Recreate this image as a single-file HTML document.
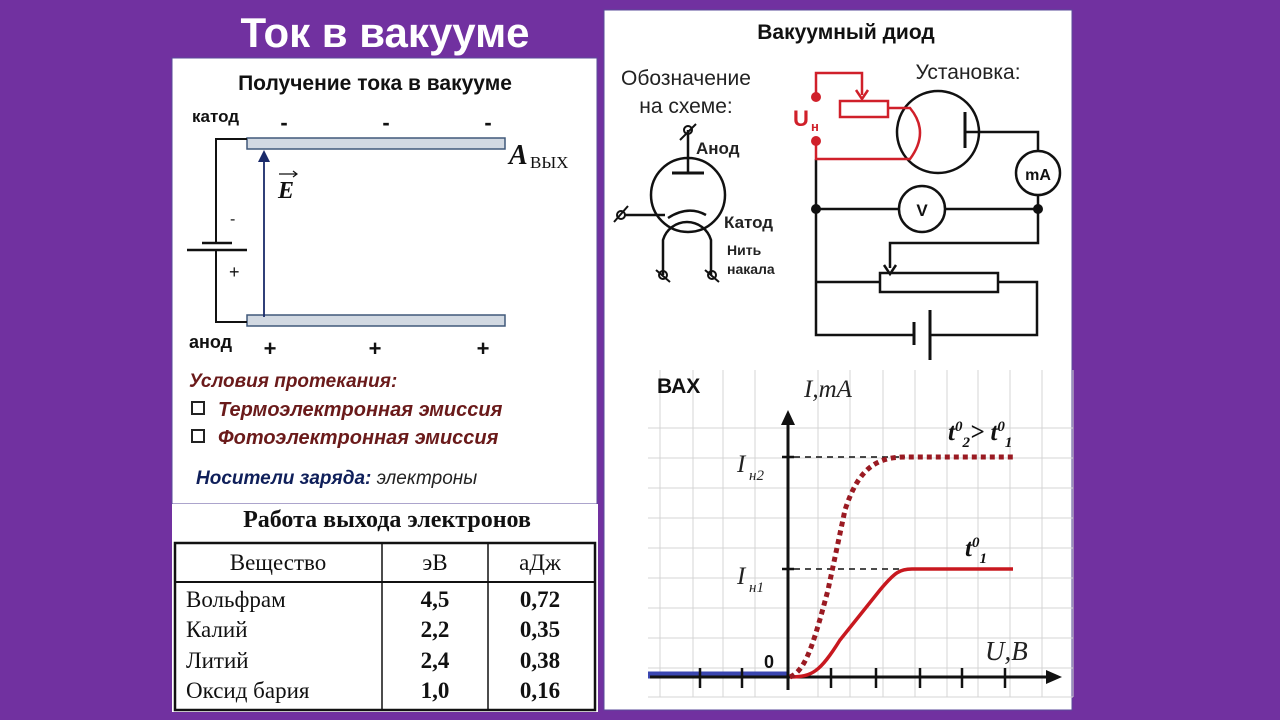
<!DOCTYPE html>
<html><head><meta charset="utf-8"><style>
html,body{margin:0;padding:0;}
body{width:1280px;height:720px;background:#7131a0;overflow:hidden;font-family:"Liberation Sans","DejaVu Sans",sans-serif;}
svg{display:block}
</style></head><body>
<svg width="1280" height="720" viewBox="0 0 1280 720" xmlns="http://www.w3.org/2000/svg">
<rect width="1280" height="720" fill="#7131a0"/>
<text x="385" y="47" text-anchor="middle" font-family="Liberation Sans, sans-serif" font-weight="bold" font-size="42" fill="#fff">Ток в вакууме</text>
<!-- left panel -->
<rect x="172" y="58" width="425" height="446" fill="#fff" stroke="#5a4a9a" stroke-width="1"/>
<rect x="172" y="504" width="426" height="208" fill="#fff"/>
<!-- right panel -->
<rect x="604" y="10" width="468" height="700" fill="#fff" stroke="#5a4a9a" stroke-width="1"/>

<!-- left diagram -->
<text x="375" y="90" text-anchor="middle" font-weight="bold" font-size="21" fill="#111">Получение тока в вакууме</text>
<text x="192" y="122" font-weight="bold" font-size="17" fill="#111">катод</text>
<text x="189" y="348" font-weight="bold" font-size="18" fill="#111">анод</text>
<g font-weight="bold" font-size="22" fill="#111" text-anchor="middle">
<text x="284" y="130">-</text><text x="386" y="130">-</text><text x="488" y="130">-</text>
<text x="270" y="356">+</text><text x="375" y="356">+</text><text x="483" y="356">+</text>
</g>
<rect x="247" y="138" width="258" height="11" fill="#d2d9e2" stroke="#40597a" stroke-width="1.5"/>
<rect x="247" y="315" width="258" height="11" fill="#d2d9e2" stroke="#40597a" stroke-width="1.5"/>
<path d="M247 139 H216 V243 M216 251 V322 H247" fill="none" stroke="#111" stroke-width="2"/>
<line x1="202" y1="243" x2="232" y2="243" stroke="#111" stroke-width="2.5"/>
<line x1="187" y1="250" x2="247" y2="250" stroke="#111" stroke-width="2.5"/>
<text x="230" y="224" font-size="16" fill="#111">-</text>
<text x="229" y="278" font-size="18" fill="#111">+</text>
<line x1="264" y1="317" x2="264" y2="158" stroke="#1a2a6a" stroke-width="1.8"/>
<path d="M258 162 L264 150 L270 162 Z" fill="#1a2a6a"/>
<text x="278" y="198" font-family="Liberation Serif, serif" font-weight="bold" font-style="italic" font-size="24" fill="#111">E</text>
<path d="M279 174 H297 M293 171 L297 174 L293 177" fill="none" stroke="#111" stroke-width="1.2"/>
<text x="509" y="164" font-family="Liberation Serif, serif" font-weight="bold" font-style="italic" font-size="28" fill="#111">A</text>
<text x="530" y="168" font-family="Liberation Serif, serif" font-size="17" fill="#111">ВЫХ</text>

<g font-weight="bold" font-style="italic" fill="#6a1a1a">
<text x="189" y="387" font-size="19">Условия протекания:</text>
<text x="218" y="416" font-size="20">Термоэлектронная эмиссия</text>
<text x="218" y="444" font-size="20">Фотоэлектронная эмиссия</text>
</g>
<rect x="192" y="402" width="12" height="12" fill="none" stroke="#222" stroke-width="2"/>
<rect x="192" y="430" width="12" height="12" fill="none" stroke="#222" stroke-width="2"/>
<text x="196" y="484" font-style="italic" font-size="19" fill="#0f1f5a"><tspan font-weight="bold">Носители заряда:</tspan><tspan fill="#222"> электроны</tspan></text>

<!-- table -->
<text x="387" y="527" text-anchor="middle" font-family="Liberation Serif, serif" font-weight="bold" font-size="24" fill="#111">Работа выхода электронов</text>
<rect x="175" y="543" width="420" height="167" fill="none" stroke="#111" stroke-width="2.5"/>
<line x1="175" y1="582" x2="595" y2="582" stroke="#111" stroke-width="2"/>
<line x1="382" y1="543" x2="382" y2="710" stroke="#111" stroke-width="1.5"/>
<line x1="488" y1="543" x2="488" y2="710" stroke="#111" stroke-width="1.5"/>
<g font-family="Liberation Serif, serif" font-size="23" fill="#111">
<text x="278" y="570" text-anchor="middle">Вещество</text>
<text x="435" y="570" text-anchor="middle">эВ</text>
<text x="540" y="570" text-anchor="middle">аДж</text>
<text x="186" y="607">Вольфрам</text>
<text x="186" y="637">Калий</text>
<text x="186" y="668">Литий</text>
<text x="186" y="698">Оксид бария</text>
<g text-anchor="middle" font-weight="bold">
<text x="435" y="607">4,5</text><text x="435" y="637">2,2</text><text x="435" y="668">2,4</text><text x="435" y="698">1,0</text>
<text x="540" y="607">0,72</text><text x="540" y="637">0,35</text><text x="540" y="668">0,38</text><text x="540" y="698">0,16</text>
</g>
</g>

<!-- right: diode -->
<text x="846" y="39" text-anchor="middle" font-weight="bold" font-size="21" fill="#111">Вакуумный диод</text>
<text x="686" y="85" text-anchor="middle" font-size="21" fill="#222">Обозначение</text>
<text x="686" y="113" text-anchor="middle" font-size="21" fill="#222">на схеме:</text>
<text x="968" y="79" text-anchor="middle" font-size="21" fill="#222">Установка:</text>
<!-- tube symbol -->
<g fill="none" stroke="#111" stroke-width="2.5">
<circle cx="688" cy="195" r="37"/>
<line x1="688" y1="173" x2="688" y2="130"/>
<line x1="672" y1="173" x2="704" y2="173" stroke-width="3"/>
<path d="M624 215 H665"/>
<path d="M668 218 Q688 205 706 215"/>
<path d="M663 275 V240 A25 25 0 0 1 711 240 V275"/>
<line x1="680" y1="140" x2="696" y2="124" stroke-width="2"/>
<circle cx="688" cy="130" r="4" stroke-width="2"/>
<line x1="614" y1="222" x2="628" y2="206" stroke-width="2"/><circle cx="621" cy="215" r="4" stroke-width="2"/>
<line x1="656" y1="270" x2="670" y2="282" stroke-width="2"/><circle cx="663" cy="275" r="4" stroke-width="2"/>
<line x1="705" y1="270" x2="719" y2="282" stroke-width="2"/><circle cx="712" cy="275" r="4" stroke-width="2"/>
</g>
<g font-weight="bold" fill="#222">
<text x="696" y="154" font-size="17">Анод</text>
<text x="724" y="228" font-size="17">Катод</text>
<text x="727" y="255" font-size="14">Нить</text>
<text x="727" y="274" font-size="14">накала</text>
</g>
<!-- circuit -->
<g fill="none" stroke="#111" stroke-width="2.5">
<circle cx="938" cy="132" r="41"/>
<line x1="965" y1="112" x2="965" y2="148" stroke-width="3"/>
<path d="M965 132 H1038 V151"/>
<circle cx="1038" cy="173" r="22"/>
<path d="M1038 195 V243 H890 V268"/>
<path d="M816 159 V335 H914 M930 335 H1037 V282 H998"/>
<path d="M816 209 H899 M945 209 H1038"/>
<circle cx="922" cy="209" r="23"/>
<rect x="880" y="273" width="118" height="19"/>
<path d="M816 282 H880"/>
<line x1="914" y1="322" x2="914" y2="345" stroke-width="3"/>
<line x1="930" y1="310" x2="930" y2="360" stroke-width="3"/>
</g>
<path d="M884 265 L890 274 L896 265" fill="none" stroke="#111" stroke-width="2.5"/>
<circle cx="816" cy="209" r="5" fill="#111"/>
<circle cx="1038" cy="209" r="5" fill="#111"/>
<text x="1038" y="180" text-anchor="middle" font-weight="bold" font-size="16" fill="#111">mA</text>
<text x="922" y="216" text-anchor="middle" font-weight="bold" font-size="17" fill="#111">V</text>
<g fill="none" stroke="#d0202a" stroke-width="2.5">
<path d="M816 97 V73 H862 V95"/>
<path d="M856 90 L862 99 L868 90"/>
<rect x="840" y="101" width="48" height="16"/>
<path d="M888 108 H910 Q930 132 910 159 H816 V141"/>
</g>
<circle cx="816" cy="97" r="5" fill="#d0202a"/>
<circle cx="816" cy="141" r="5" fill="#d0202a"/>
<text x="793" y="126" font-weight="bold" font-size="22" fill="#d0202a">U</text>
<text x="811" y="131" font-weight="bold" font-size="13" fill="#d0202a">н</text>

<!-- graph grid -->
<g stroke="#d4d4d4" stroke-width="1">
<path d="M660 370V697M693 370V697M723 370V697M755 370V697M818 370V697M850 370V697M883 370V697M915 370V697M947 370V697M978 370V697M1010 370V697M1042 370V697M1073 370V697"/>
<path d="M648 428H1073M648 458H1073M648 488H1073M648 518H1073M648 548H1073M648 578H1073M648 608H1073M648 638H1073M648 668H1073M648 697H1073"/>
</g>
<text x="657" y="393" font-weight="bold" font-size="21" fill="#111">ВАХ</text>
<text x="804" y="397" font-family="Liberation Serif, serif" font-style="italic" font-size="25" fill="#222">I,mA</text>
<text x="985" y="660" font-family="Liberation Serif, serif" font-style="italic" font-size="27" fill="#222">U,B</text>
<text x="764" y="668" font-weight="bold" font-size="18" fill="#111">0</text>
<g font-family="Liberation Serif, serif" font-style="italic" fill="#222">
<text x="737" y="472" font-size="25">I</text><text x="749" y="480" font-size="15">н2</text>
<text x="737" y="584" font-size="25">I</text><text x="749" y="592" font-size="15">н1</text>
</g>
<g font-family="Liberation Serif, serif" font-weight="bold" font-style="italic" fill="#111">
<text x="948" y="440" font-size="25">t<tspan font-size="15" dy="-9">0</tspan><tspan font-size="15" dy="16">2</tspan><tspan font-size="25" dy="-7">&gt;</tspan> t<tspan font-size="15" dy="-9">0</tspan><tspan font-size="15" dy="16">1</tspan></text>
<text x="965" y="556" font-size="25">t<tspan font-size="15" dy="-9">0</tspan><tspan font-size="15" dy="16">1</tspan></text>
</g>
<line x1="648" y1="675" x2="788" y2="675" stroke="#3a46b0" stroke-width="7"/>
<line x1="788" y1="690" x2="788" y2="420" stroke="#111" stroke-width="3"/>
<path d="M781 425 L788 410 L795 425 Z" fill="#111"/>
<line x1="650" y1="677" x2="1050" y2="677" stroke="#111" stroke-width="3"/>
<path d="M1046 670 L1062 677 L1046 684 Z" fill="#111"/>
<g stroke="#111" stroke-width="2.5">
<path d="M700 668V688M742 668V688M831 668V688M876 668V688M920 668V688M962 668V688M1005 668V688"/>
<path d="M782 457H794M782 569H794"/>
</g>
<path d="M794 457 H905 M794 569 H910" stroke="#111" stroke-width="1.5" stroke-dasharray="6,5" fill="none"/>
<path d="M790 677 C812 677 820 672 840 640 L880 590 C895 572 900 569 912 569 H1013" fill="none" stroke="#c8181f" stroke-width="3.5"/>
<path d="M790 677 C805 670 812 650 828 590 L845 510 C858 470 875 457 905 457 H1013" fill="none" stroke="#9a1a22" stroke-width="5" stroke-dasharray="5,4"/>
</svg>
</body></html>
